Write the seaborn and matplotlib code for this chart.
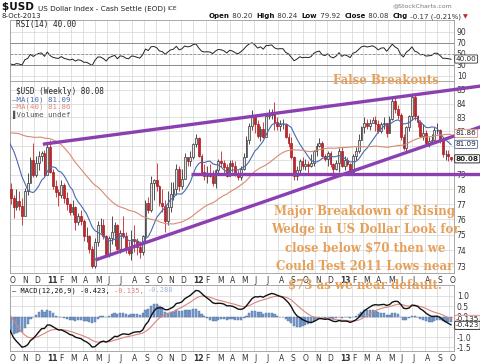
import numpy as np
import pandas as pd
import seaborn as sns
import matplotlib.pyplot as plt

sns.set_theme(style="whitegrid")
plt.rcParams["font.family"] = ["DejaVu Sans"]

# weekly closes Jan-Sep 2010, only used to warm up the indicators
warmup_close = [77.9, 77.1, 77.5, 78.4, 79.5, 80.5, 80.4, 80.6, 80.3, 80.4,
                79.6, 80.7, 81.8, 81.1, 80.6, 81.0, 81.6, 81.8, 84.2, 85.6,
                85.4, 86.3, 88.2, 86.9, 85.6, 85.6, 84.1, 83.9, 82.7, 82.4,
                81.6, 80.6, 82.6, 83.1, 82.6, 82.1, 82.8, 81.5, 79.5, 78.0]

# weekly bars, week of 8-Oct-2010 .. 8-Oct-2013
close = [77.4, 76.8, 77.2, 76.9, 76.2, 77.9, 78.4, 80.0, 79.0, 79.8, 80.3, 80.5, 79.0,
         80.9, 79.2, 78.2, 77.8, 77.6, 78.3, 77.4, 77.0, 76.5, 76.8, 75.8, 76.2, 75.9, 74.9, 74.9, 74.1, 73.0,
         74.5, 75.6, 75.6, 74.9, 73.7, 74.8, 75.2, 75.6, 74.1, 75.1, 74.9, 74.1, 73.8,
         74.7, 74.6, 74.2, 73.9, 74.9, 77.1, 76.6, 78.4, 78.6,
         78.2, 77.1, 76.9, 75.9, 76.8, 77.7, 78.0, 79.4, 78.2, 78.7, 80.2, 79.9, 80.2,
         81.1, 81.5, 80.3, 79.2, 78.9, 79.0, 78.9, 78.4, 79.3, 79.9, 79.8, 79.5, 78.9,
         79.8, 79.6, 79.1, 78.8, 79.4, 80.2, 81.4, 82.4, 83.0, 82.5, 81.7, 82.2, 81.6,
         83.1, 83.2, 83.4, 82.7, 82.4, 82.5, 82.5, 81.6, 81.2, 80.2, 78.9, 79.3, 79.9,
         79.6, 79.7, 79.6, 79.8, 80.6, 81.0, 81.2, 80.3, 80.1, 80.5, 79.7, 79.4, 79.8,
         80.6, 79.6, 80.0, 79.7, 79.2, 80.3, 80.6, 81.4, 82.3, 82.6, 82.4, 82.6, 82.8,
         82.5, 82.0, 82.5, 82.6, 81.9, 82.9, 84.2, 83.6, 83.2, 81.6, 80.8, 82.3, 83.1,
         84.5, 83.1, 82.7, 81.7, 81.9, 81.2, 81.3, 81.4, 82.1, 82.1, 81.4, 80.4, 80.4,
         80.25, 80.08]

high = [78.4, 77.6, 78.0, 77.9, 77.4, 78.1, 79.1, 80.2, 81.2, 80.3, 80.6, 80.6, 80.7,
        81.1, 81.4, 79.4, 78.6, 78.0, 78.6, 78.4, 77.8, 77.1, 77.3, 76.9, 76.4, 76.6, 76.0, 75.5, 75.0, 74.3,
        74.8, 75.9, 76.1, 76.0, 75.0, 74.9, 76.2, 75.8, 75.7, 75.3, 76.2, 75.2, 74.6,
        75.3, 75.6, 74.8, 74.6, 75.0, 77.3, 77.5, 78.9, 78.7,
        79.8, 78.3, 78.0, 77.3, 77.9, 78.5, 78.5, 79.7, 79.6, 79.4, 80.5, 80.2, 80.6,
        81.2, 81.8, 81.6, 80.4, 79.7, 79.6, 79.7, 79.3, 79.4, 80.1, 80.6, 80.0, 79.7,
        80.0, 80.0, 79.9, 79.3, 79.6, 80.5, 81.7, 82.6, 83.5, 83.2, 82.8, 82.4, 82.7,
        83.3, 83.6, 83.6, 84.1, 83.0, 82.8, 82.9, 82.6, 81.9, 81.6, 80.3, 79.6, 80.1,
        80.2, 80.1, 79.9, 80.4, 80.7, 81.2, 81.5, 81.3, 80.4, 80.6, 80.6, 79.8, 80.0,
        80.8, 80.9, 80.3, 80.2, 79.8, 80.4, 80.9, 81.8, 82.4, 83.0, 82.9, 82.9, 83.0,
        83.1, 82.8, 82.7, 83.0, 82.6, 83.1, 84.4, 84.5, 83.9, 83.3, 81.8, 82.4, 83.2,
        84.6, 84.8, 83.2, 82.8, 82.5, 82.1, 81.6, 81.8, 82.3, 82.6, 82.2, 81.5, 80.7,
        80.7, 80.24]

low = [77.0, 76.1, 76.6, 76.6, 75.6, 76.3, 77.6, 78.5, 78.8, 78.8, 79.3, 79.9, 78.9,
       79.2, 79.1, 78.0, 77.5, 76.9, 77.4, 77.1, 76.6, 76.3, 76.3, 75.3, 75.6, 75.6, 74.6, 74.5, 73.8, 72.9,
       72.9, 74.3, 75.1, 74.7, 73.6, 73.6, 74.4, 74.3, 74.0, 73.8, 74.8, 73.8, 73.7,
       73.4, 73.9, 73.7, 73.5, 73.7, 74.6, 76.4, 76.5, 77.3,
       77.9, 76.9, 76.5, 75.2, 75.6, 76.5, 77.3, 77.6, 77.9, 78.0, 78.7, 79.6, 79.6,
       80.1, 80.9, 80.2, 79.0, 78.6, 78.4, 78.8, 78.2, 78.1, 79.0, 79.5, 79.1, 78.8,
       78.9, 79.2, 78.9, 78.6, 78.6, 79.3, 80.2, 81.1, 82.1, 81.9, 81.5, 81.3, 81.5,
       81.8, 82.9, 82.9, 82.1, 82.1, 82.0, 82.2, 81.5, 80.9, 80.1, 78.6, 78.6, 79.1,
       79.4, 79.3, 79.0, 79.5, 79.6, 80.3, 80.9, 80.2, 79.9, 79.6, 79.5, 79.0, 79.3,
       79.2, 79.5, 79.3, 79.6, 79.0, 79.1, 80.0, 80.5, 81.4, 81.9, 82.2, 82.1, 82.6,
       82.0, 81.9, 81.9, 82.2, 81.6, 81.9, 82.8, 83.3, 82.9, 81.4, 80.7, 80.5, 82.0,
       82.8, 82.8, 82.3, 81.6, 81.4, 81.1, 80.9, 81.1, 81.3, 81.8, 81.2, 80.2, 80.0,
       79.9, 79.92]
last_open = 80.20

month_letters = ["J", "F", "M", "A", "M", "J", "J", "A", "S", "O", "N", "D"]

# hand drawn trendlines (date, price)
wedge_top = [("2010-12-22", 81.1), ("2013-12-19", 85.28)]
wedge_bottom = [("2011-05-02", 73.38), ("2013-12-19", 82.33)]
support = [("2011-12-27", 79.05), ("2013-12-19", 79.05)]

header_pieces = [("Open", "bold"), (" 80.20  ", "normal"), ("High", "bold"), (" 80.24  ", "normal"),
                 ("Low", "bold"), (" 79.92  ", "normal"), ("Close", "bold"), (" 80.08  ", "normal"),
                 ("Chg", "bold"), (" -0.17 (-0.21%) ", "normal")]
note_lines = ["Major Breakdown of Rising", "Wedge in US Dollar Look for",
              "close below $70 then we", "Could Test 2011 Lows near", "$73 as we near default."]

W, H = 480, 363
PURPLE = "#8b3fb0"
ORANGE = "#e6a05a"
RED = "#c3252b"
GRID = "#d4d4d4"

warm_dates = pd.date_range(end="2010-09-26", periods=len(warmup_close), freq="W-SUN")
dates = pd.date_range("2010-10-03", periods=len(close), freq="W-SUN")
series = pd.Series(warmup_close + close, index=warm_dates.append(dates))
ma10 = series.rolling(10).mean()
ma40 = series.rolling(40).mean()
delta = series.diff()
gain = delta.clip(lower=0).ewm(alpha=1 / 14, adjust=False).mean()
loss = (-delta.clip(upper=0)).ewm(alpha=1 / 14, adjust=False).mean()
rsi = 100 - 100 / (1 + gain / loss)
macd = series.ewm(span=12, adjust=False).mean() - series.ewm(span=26, adjust=False).mean()
signal = macd.ewm(span=9, adjust=False).mean()
hist = macd - signal

df = pd.DataFrame({"date": dates, "close": close, "high": high, "low": low})
df["open"] = [warmup_close[-1]] + close[:-1]
df.loc[df.index[-1], "open"] = last_open

fig = plt.figure(figsize=(4.8, 3.63), dpi=100)


def box(top, bottom, left=10, right=454):
    return [left / W, 1 - bottom / H, (right - left) / W, (bottom - top) / H]


ax_rsi = fig.add_axes(box(20, 81))
ax_px = fig.add_axes(box(81, 273))
ax_macd = fig.add_axes(box(285, 351))

xlo, xhi = pd.Timestamp("2010-10-01"), pd.Timestamp("2013-10-13")
months = pd.date_range("2010-10-01", "2013-10-01", freq="MS")
mlabels = [f"{m.year % 100}" if m.month == 1 else month_letters[m.month - 1] for m in months]

# --- price panel
up = df["close"] >= df["open"]
ax_px.vlines(df["date"], df["low"], df["high"], colors=np.where(up, "#333333", RED), lw=0.6, zorder=3)
ax_px.bar(df["date"][up], (df["close"] - df["open"])[up], bottom=df["open"][up], width=4.5,
          facecolor="#e4e4e4", edgecolor="#333333", lw=0.5, zorder=4)
ax_px.bar(df["date"][~up], (df["close"] - df["open"])[~up], bottom=df["open"][~up], width=4.5,
          facecolor=RED, edgecolor="#a51c20", lw=0.5, zorder=4)
sns.lineplot(x=series.index, y=ma10.values, ax=ax_px, color="#4a68ad", lw=0.8, zorder=5)
sns.lineplot(x=series.index, y=ma40.values, ax=ax_px, color="#d98a74", lw=0.8, zorder=5)
for line in (wedge_top, wedge_bottom, support):
    ax_px.plot([pd.Timestamp(d) for d, _ in line], [p for _, p in line], color=PURPLE, lw=2.4,
               solid_capstyle="butt", clip_on=False, zorder=8)
ax_px.set_yscale("log")
ax_px.set_ylim(72.56, 85.65)
ax_px.set_yticks(range(73, 86))
ax_px.set_yticklabels([str(v) for v in range(73, 86)])
ax_px.minorticks_off()

# --- RSI panel
sns.lineplot(x=series.index, y=rsi.values, ax=ax_rsi, color="#222222", lw=0.7)
ax_rsi.axhline(70, color="#8a8a8a", lw=0.7)
ax_rsi.axhline(50, color="#8a8a8a", lw=0.6, ls=(0, (3, 2)))
ax_rsi.axhline(30, color="#8a8a8a", lw=0.7)
ax_rsi.set_ylim(0, 111)
ax_rsi.set_yticks([10, 30, 50, 70, 90])
ax_rsi.set_yticklabels(["10", "30", "50", "70", "90"])

# --- MACD panel
vis = series.index >= dates[0]
ax_macd.bar(series.index[vis], hist.values[vis], width=5.5, color="#7a9ccc", edgecolor="#4c6fa3", lw=0.3, zorder=3)
sns.lineplot(x=series.index, y=signal.values, ax=ax_macd, color="#d9857a", lw=0.8, zorder=4)
sns.lineplot(x=series.index, y=macd.values, ax=ax_macd, color="#111111", lw=1.0, zorder=5)
ax_macd.set_ylim(-1.67, 1.53)
ax_macd.set_yticks([-1.5, -1.0, -0.5, 0.0, 0.5, 1.0])
ax_macd.set_yticklabels(["-1.5", "-1.0", "-0.5", "0.0", "0.5", "1.0"])

for ax in (ax_rsi, ax_px, ax_macd):
    ax.set_facecolor("white")
    ax.set_xlim(xlo, xhi)
    ax.set_xticks(months)
    ax.set_xticklabels(mlabels, ha="left")
    ax.grid(True, color=GRID, lw=0.5)
    ax.set_axisbelow(True)
    ax.set_xlabel("")
    ax.set_ylabel("")
    for s in ax.spines.values():
        s.set_color("#9a9a9a")
        s.set_linewidth(0.6)
    ax.yaxis.tick_right()
    ax.tick_params(axis="both", length=0, labelsize=5.5, pad=2, labelcolor="#333333")
    ax.tick_params(axis="x", pad=2.5)
    for t in ax.get_xticklabels():
        if t.get_text().isdigit():
            t.set_fontweight("bold")
ax_rsi.tick_params(axis="x", labelbottom=False)


def value_box(ax, y, text, edge, bold=False):
    ax.text(1.004, y, text, transform=ax.get_yaxis_transform(), ha="left", va="center", fontsize=5.2,
            fontweight="bold" if bold else "normal", color="#222222", clip_on=False, zorder=10,
            bbox=dict(boxstyle="round,pad=0.15", fc="white", ec=edge, lw=0.6))


value_box(ax_px, 81.86, "81.86", "#d98a74")
value_box(ax_px, 81.09, "81.09", "#4a68ad")
value_box(ax_px, 80.08, "80.08", "#111111", bold=True)
value_box(ax_rsi, 40.0, "40.00", "#333333")
value_box(ax_macd, -0.135, "-0.135", "#d9857a")
value_box(ax_macd, -0.423, "-0.423", "#111111")

# --- header and legends
fig.canvas.draw()
rend = fig.canvas.get_renderer()


def run_text(x, y, pieces, family="DejaVu Sans"):
    # pieces: (text, size, weight, color), laid out left to right
    for txt, size, weight, color in pieces:
        t = fig.text(x / W, 1 - y / H, txt, fontsize=size, fontweight=weight, color=color,
                     family=family, va="baseline")
        x += t.get_window_extent(renderer=rend).width
    return x


run_text(2, 10, [("$USD ", 7.5, "bold", "#111111"),
                 ("US Dollar Index - Cash Settle (EOD) ", 5.2, "normal", "#222222"),
                 ("ICE", 4.2, "normal", "#222222")])
fig.text(2 / W, 1 - 18 / H, "8-Oct-2013", fontsize=5, color="#222222", va="baseline")
fig.text(452 / W, 1 - 7 / H, "@StockCharts.com", fontsize=4.5, color="#777777", va="baseline", ha="right")
xe = run_text(209, 18, [(t, 5, w, "#111111" if w == "bold" else "#333333") for t, w in header_pieces])
fig.text(xe / W, 1 - 18 / H, "\u25bc", fontsize=4.5, color=RED, va="baseline")

mono = "DejaVu Sans Mono"
fig.text(16 / W, 1 - 27 / H, "RSI(14) 40.00", fontsize=5.5, family=mono, color="#222222", va="baseline")
fig.text(16 / W, 1 - 94 / H, "$USD (Weekly) 80.08", fontsize=5.6, family=mono, color="#222222", va="baseline")
fig.text(12 / W, 1 - 101.5 / H, "\u2014MA(10) 81.09", fontsize=5.3, family=mono, color="#4a68ad", va="baseline")
fig.text(12 / W, 1 - 109 / H, "\u2014MA(40) 81.86", fontsize=5.3, family=mono, color="#d98a74", va="baseline")
fig.text(12 / W, 1 - 116.5 / H, "\u258cVolume undef", fontsize=5.3, family=mono, color="#555555", va="baseline")
run_text(12, 292.5, [("\u2014 MACD(12,26,9) -0.423, ", 5, "normal", "#111111"),
                     ("-0.135, ", 5, "normal", "#d9857a"),
                     ("-0.288", 5, "normal", "#9fb8d8")], family=mono)

# --- annotations
fig.text(386 / W, 1 - 80 / H, "False Breakouts", ha="center", va="center", fontsize=8.5,
         family="DejaVu Serif", fontweight="bold", color=ORANGE)
for i, line in enumerate(note_lines):
    fig.text(365 / W, 1 - (211.7 + 18.3 * i) / H, line, ha="center", va="center", fontsize=8.5,
             family="DejaVu Serif", fontweight="bold", color=ORANGE)

fig.savefig("out.png", dpi=100, facecolor="white")
